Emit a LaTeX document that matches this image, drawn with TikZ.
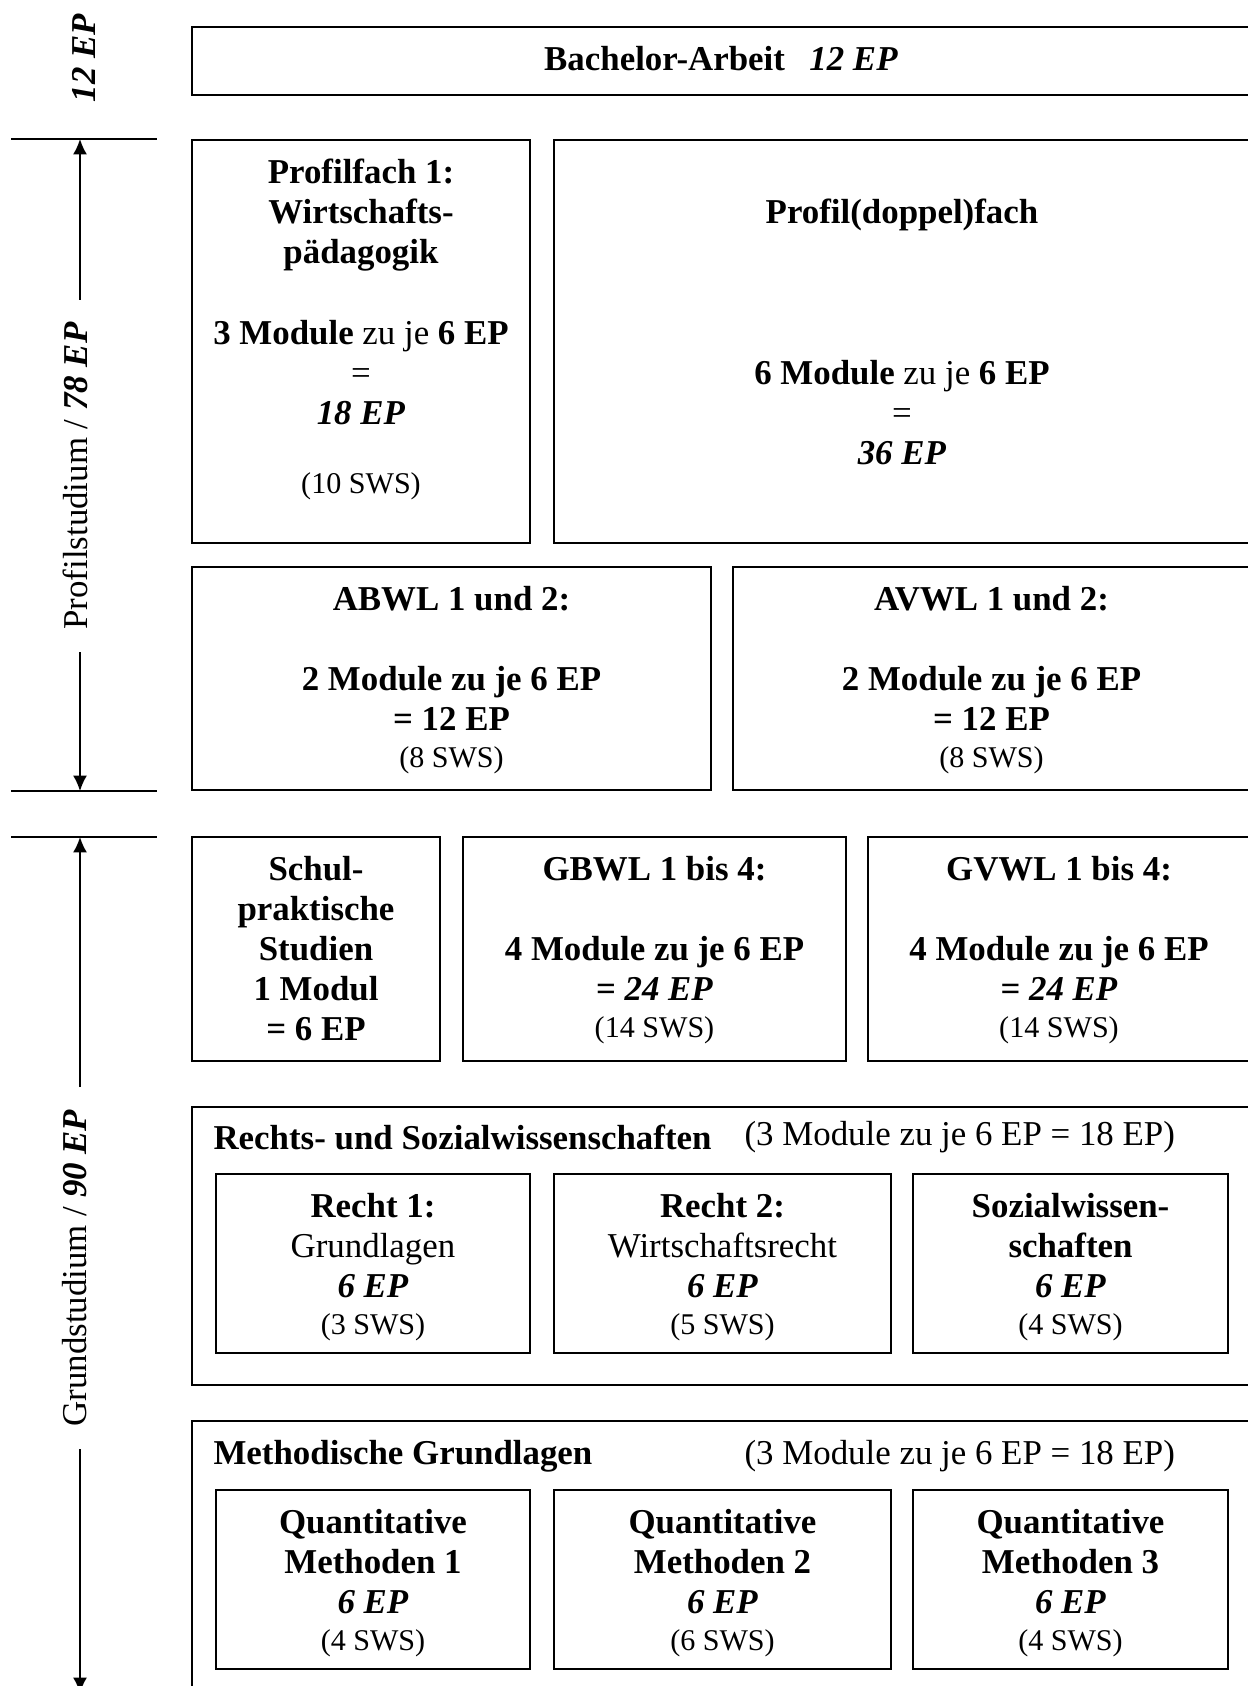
\documentclass[tikz,border=0pt]{standalone}
\usepackage{fontspec}
\setmainfont{Liberation Serif}
\usetikzlibrary{arrows.meta,fit}

\newcommand{\sws}[1]{{\fontsize{10.7}{13}\selectfont(#1 SWS)}}
\newcommand{\bep}[1]{\textbf{\textit{#1 EP}}}

\begin{document}
\begin{tikzpicture}[x=0.0125cm, y=-0.0125cm,
    font=\fontsize{12.4}{14.3}\selectfont,
    box/.style={draw, line width=0.6pt, inner sep=0pt},
    txt/.style={anchor=north, align=center, inner sep=0pt},
    axis/.style={line width=0.6pt},
    tip/.style={-{Latex[length=5.5pt,width=5pt]}},
    side/.style={rotate=90, inner xsep=8pt, inner ysep=0pt, outer sep=0pt},
    head/.style={anchor=west, inner sep=0pt}]
  \useasboundingbox (0,0) rectangle (1248,1686);

  % Achse links
  \draw[axis] (11,139) -- (157,139);
  \draw[axis] (11,791) -- (157,791);
  \draw[axis] (11,837) -- (157,837);
  \coordinate (pt) at (80,139);
  \coordinate (pb) at (80,791);
  \coordinate (gt) at (80,837);
  \coordinate (gb) at (80,1693);
  \node[side] (ba) at (84,58) {\bep{12}};
  \node[side] (pst) at (75,476) {Profilstudium / \bep{78}};
  \node[side] (gst) at (75,1268) {Grundstudium / \bep{90}};
  \draw[axis,tip] (pt |- pst.east) -- (pt);
  \draw[axis,tip] (pb |- pst.west) -- (pb);
  \draw[axis,tip] (gt |- gst.east) -- (gt);
  \draw[axis,tip] (gb |- gst.west) -- (gb);

  % Bachelor
  \node[box, fit={(192,27) (1250,95)}] (bach) {};
  \node[txt] (bacht) at ([yshift=-6.8pt]bach.north) {\textbf{Bachelor-Arbeit}\hspace{0.7em}\bep{12}};

  % Profilstudium
  \node[box, fit={(192,140) (530,543)}] (pf1) {};
  \node[txt] (pf1t) at ([yshift=-6.8pt]pf1.north) {\textbf{Profilfach 1:}\\ \textbf{Wirtschafts-}\\ \textbf{pädagogik}\\[14.3pt] \textbf{3 Module} zu je \textbf{6 EP}\\ =\\ \bep{18}\\[10pt] \sws{10}};
  \node[box, fit={(554,140) (1250,543)}] (pd) {};
  \node[txt] (pdt) at ([yshift=-21.1pt]pd.north) {\textbf{Profil(doppel)fach}\\[42.9pt] \textbf{6 Module} zu je \textbf{6 EP}\\ =\\ \bep{36}};
  \node[box, fit={(192,567) (711,790)}] (abwl) {};
  \node[txt] (abwlt) at ([yshift=-6.8pt]abwl.north) {\textbf{ABWL 1 und 2:}\\[14.3pt] \textbf{2 Module zu je 6 EP}\\ \textbf{= 12 EP}\\[-1.3pt] \sws{8}};
  \node[box, fit={(733,567) (1250,790)}] (avwl) {};
  \node[txt] (avwlt) at ([yshift=-6.8pt]avwl.north) {\textbf{AVWL 1 und 2:}\\[14.3pt] \textbf{2 Module zu je 6 EP}\\ \textbf{= 12 EP}\\[-1.3pt] \sws{8}};

  % Grundstudium
  \node[box, fit={(192,837) (440,1061)}] (schul) {};
  \node[txt] (schult) at ([yshift=-6.8pt]schul.north) {\textbf{Schul-}\\ \textbf{praktische}\\ \textbf{Studien}\\ \textbf{1 Modul}\\ \textbf{= 6 EP}};
  \node[box, fit={(463,837) (846,1061)}] (gbwl) {};
  \node[txt] (gbwlt) at ([yshift=-6.8pt]gbwl.north) {\textbf{GBWL 1 bis 4:}\\[14.3pt] \textbf{4 Module zu je 6 EP}\\ \textbf{=} \bep{24}\\[-1.3pt] \sws{14}};
  \node[box, fit={(868,837) (1250,1061)}] (gvwl) {};
  \node[txt] (gvwlt) at ([yshift=-6.8pt]gvwl.north) {\textbf{GVWL 1 bis 4:}\\[14.3pt] \textbf{4 Module zu je 6 EP}\\ \textbf{=} \bep{24}\\[-1.3pt] \sws{14}};

  \node[box, fit={(192,1107) (1250,1385)}] (rs) {};
  \node[head] (rsk) at (213,1137) {\textbf{Rechts- und Sozialwissenschaften}};
  \node[head] (rsm) at (744,1137) {(3 Module zu je 6 EP = 18 EP)};
  \node[box, fit={(216,1174) (530,1353)}] (r1) {};
  \node[txt] (r1t) at ([yshift=-6.8pt]r1.north) {\textbf{Recht 1:}\\ Grundlagen\\ \bep{6}\\[-1.3pt] \sws{3}};
  \node[box, fit={(554,1174) (891,1353)}] (r2) {};
  \node[txt] (r2t) at ([yshift=-6.8pt]r2.north) {\textbf{Recht 2:}\\ Wirtschaftsrecht\\ \bep{6}\\[-1.3pt] \sws{5}};
  \node[box, fit={(913,1174) (1228,1353)}] (sw) {};
  \node[txt] (swt) at ([yshift=-6.8pt]sw.north) {\textbf{Sozialwissen-}\\ \textbf{schaften}\\ \bep{6}\\[-1.3pt] \sws{4}};

  \node[box, fit={(192,1421) (1250,1700)}] (mg) {};
  \node[head] (mgk) at (213,1456) {\textbf{Methodische Grundlagen}};
  \node[head] (mgm) at (744,1456) {(3 Module zu je 6 EP = 18 EP)};
  \node[box, fit={(216,1490) (530,1669)}] (qm1) {};
  \node[txt] (qm1t) at ([yshift=-6.8pt]qm1.north) {\textbf{Quantitative}\\ \textbf{Methoden 1}\\ \bep{6}\\[-1.3pt] \sws{4}};
  \node[box, fit={(554,1490) (891,1669)}] (qm2) {};
  \node[txt] (qm2t) at ([yshift=-6.8pt]qm2.north) {\textbf{Quantitative}\\ \textbf{Methoden 2}\\ \bep{6}\\[-1.3pt] \sws{6}};
  \node[box, fit={(913,1490) (1228,1669)}] (qm3) {};
  \node[txt] (qm3t) at ([yshift=-6.8pt]qm3.north) {\textbf{Quantitative}\\ \textbf{Methoden 3}\\ \bep{6}\\[-1.3pt] \sws{4}};
\end{tikzpicture}
\end{document}
